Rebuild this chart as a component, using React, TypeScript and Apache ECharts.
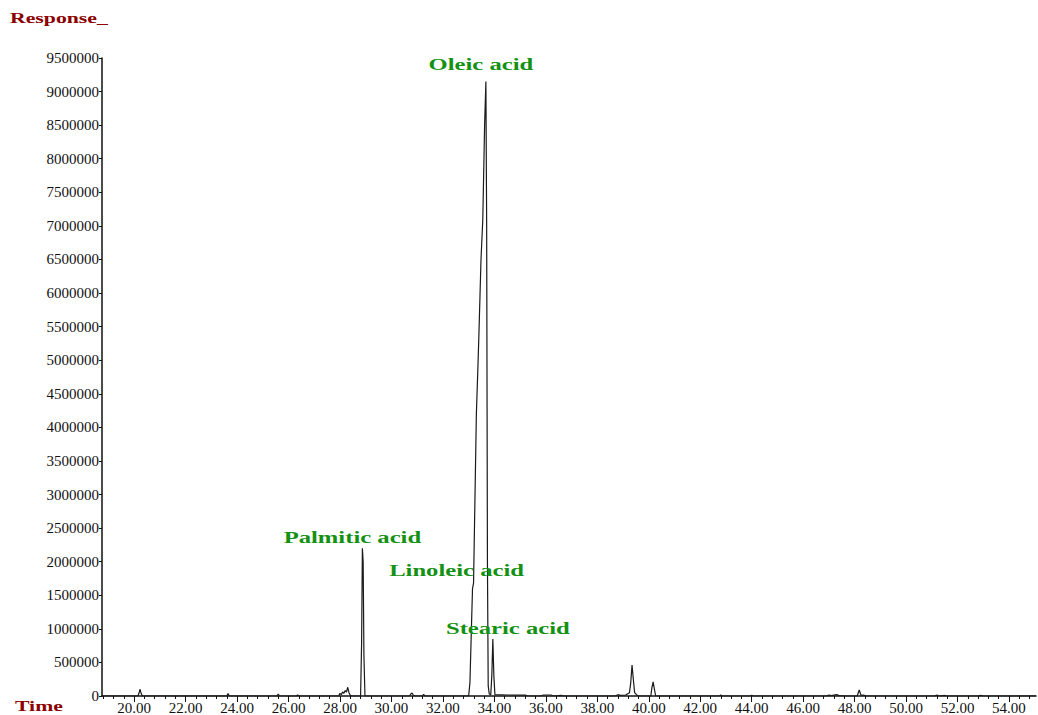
import React, { useEffect, useRef } from "react";
import * as echarts from "echarts";

// Retention time (min) and detector response
const times = [
  18.75, 20.15, 20.2, 20.23, 20.27, 20.32,
  23.6, 23.65, 23.7,
  25.55, 25.6, 25.65,
  26.3, 26.35, 26.4,
  27.95, 28.0, 28.05, 28.1, 28.15, 28.2, 28.25, 28.3, 28.35, 28.4, 28.45,
  28.8, 28.84, 28.87, 28.9, 28.93, 28.97,
  30.7, 30.75, 30.8, 30.85, 30.9,
  31.2, 31.25, 31.3,
  33.0, 33.05, 33.1, 33.15, 33.19, 33.23, 33.3, 33.36, 33.4, 33.48, 33.55, 33.62, 33.67,
  33.7, 33.73, 33.76, 33.8, 33.86, 33.9, 33.94, 33.98, 34.02,
  34.5, 35.2, 35.3,
  35.8, 35.9, 36.2, 36.3, 36.6, 36.7,
  38.7, 38.8, 38.9, 39.1, 39.25, 39.3, 39.35, 39.4, 39.45, 39.55, 39.6,
  40.08, 40.12, 40.17, 40.22, 40.27,
  42.75, 42.8, 42.85,
  43.95, 44.0, 44.05,
  46.9, 47.0, 47.1, 47.3, 47.4, 47.6,
  48.1, 48.18, 48.25, 48.35, 48.45,
  51.1, 51.2, 51.3, 51.5, 51.6,
  52.8, 52.9, 53.0,
  55.05,
];
const response = [
  0, 0, 60000, 100000, 40000, 0,
  0, 35000, 0,
  0, 30000, 0,
  0, 15000, 0,
  0, 40000, 20000, 60000, 40000, 80000, 60000, 130000, 50000, 10000, 0,
  0, 800000, 2200000, 2000000, 600000, 0,
  0, 30000, 45000, 10000, 0,
  0, 25000, 0,
  0, 200000, 900000, 1600000, 1680000, 2600000, 4200000, 4900000, 5400000, 6500000, 7100000, 8500000, 9150000,
  7000000, 2000000, 150000, 30000, 20000, 300000, 850000, 300000, 20000,
  15000, 12000, 0,
  0, 15000, 15000, 0, 10000, 0,
  0, 20000, 10000, 15000, 50000, 200000, 460000, 250000, 50000, 10000, 0,
  0, 120000, 210000, 100000, 0,
  0, 15000, 0,
  0, 10000, 0,
  0, 15000, 5000, 20000, 5000, 0,
  0, 90000, 10000, 15000, 0,
  0, 12000, 0, 8000, 0,
  0, 10000, 0,
  0,
];

const majorTicks = [20, 22, 24, 26, 28, 30, 32, 34, 36, 38, 40, 42, 44, 46, 48, 50, 52, 54];
const xMin = 18.75;
const xMax = 55.05;
const yMin = 0;
const yMax = 9500000;
const yStep = 500000;

const peakNames = ["Oleic acid", "Palmitic acid", "Linoleic acid", "Stearic acid"];
const peakTimes = [33.67, 28.87, 33.19, 33.94];
const peakValues = [9150000, 2200000, 1680000, 850000];
const peakLabelOffsets = [
  [-5, -17],
  [-10, -11],
  [-17, -13],
  [15, -11],
];

export default function App() {
  const ref = useRef<HTMLDivElement>(null);

  useEffect(() => {
    if (!ref.current) return;
    const chart = echarts.init(ref.current, null, { renderer: "svg" });

    const minorTicks: number[] = [];
    for (let i = 47; i <= 137; i++) minorTicks.push(Math.round(i * 4) / 10);

    const data = times.map((t, i) => [t, response[i]]);

    const serif = "'Liberation Serif', 'Times New Roman', serif";

    chart.setOption({
      animation: false,
      backgroundColor: "#ffffff",
      grid: { left: 102, right: 2, top: 58, bottom: 19, containLabel: false },
      xAxis: [
        {
          type: "value",
          min: xMin,
          max: xMax,
          position: "bottom",
          axisLine: { show: true, onZero: false, lineStyle: { color: "#111", width: 1.5 } },
          axisTick: { show: true, length: 3, customValues: minorTicks, lineStyle: { color: "#111", width: 1 } },
          axisLabel: { show: false },
          splitLine: { show: false },
        },
        {
          type: "value",
          min: xMin,
          max: xMax,
          position: "bottom",
          axisLine: { show: false },
          axisTick: { show: true, length: 6, customValues: majorTicks, lineStyle: { color: "#111", width: 1 } },
          axisLabel: {
            show: true,
            customValues: majorTicks,
            formatter: (v: number) => v.toFixed(2),
            fontFamily: serif,
            fontSize: 15,
            color: "#111",
            margin: 4,
          },
          splitLine: { show: false },
        },
      ],
      yAxis: {
        type: "value",
        min: yMin,
        max: yMax,
        interval: yStep,
        axisLine: { show: true, lineStyle: { color: "#111", width: 1.5 } },
        axisTick: { show: true, length: 3, lineStyle: { color: "#111" } },
        axisLabel: {
          fontFamily: serif,
          fontSize: 15,
          color: "#111",
          margin: 3,
          formatter: (v: number) => String(v),
        },
        splitLine: { show: false },
      },
      series: [
        {
          type: "line",
          xAxisIndex: 0,
          data,
          symbol: "none",
          lineStyle: { color: "#1a1a1a", width: 1.2 },
        },
      ],
    });

    const bold = "bold 17px 'Liberation Serif', 'Times New Roman', serif";
    const annotations = peakNames.map((name, i) => {
      const p = chart.convertToPixel({ gridIndex: 0 }, [peakTimes[i], peakValues[i]]) as number[];
      return {
        type: "text",
        x: p[0] + peakLabelOffsets[i][0],
        y: p[1] + peakLabelOffsets[i][1],
        scaleX: 1.45,
        style: {
          text: name,
          font: bold,
          fill: "#139113",
          textAlign: "center",
          textVerticalAlign: "middle",
        },
        z: 100,
      };
    });

    chart.setOption({
      graphic: [
        {
          type: "text",
          x: 10,
          y: 18,
          scaleX: 1.45,
          style: {
            text: "Response_",
            font: "bold 15px 'Liberation Serif', 'Times New Roman', serif",
            fill: "#8b0000",
            textAlign: "left",
            textVerticalAlign: "middle",
          },
        },
        {
          type: "text",
          x: 15,
          y: 706,
          scaleX: 1.45,
          style: {
            text: "Time",
            font: "bold 15px 'Liberation Serif', 'Times New Roman', serif",
            fill: "#8b0000",
            textAlign: "left",
            textVerticalAlign: "middle",
          },
        },
        ...annotations,
      ],
    });

    return () => chart.dispose();
  }, []);

  return (
    <div
      ref={ref}
      style={{ position: "fixed", left: 0, top: 0, width: 1038, height: 715, background: "#fff" }}
    />
  );
}
